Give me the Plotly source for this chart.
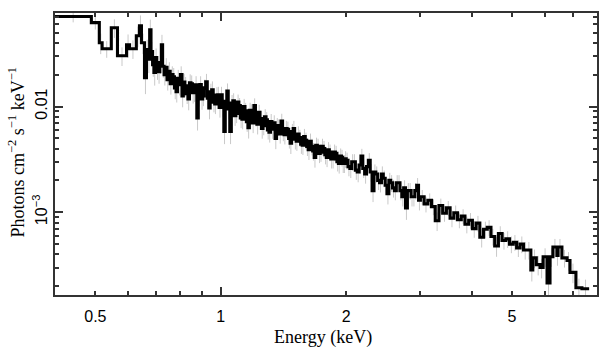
import numpy as np
import plotly.graph_objects as go

# ---- data: bin lower edges (keV), flux (photons/cm2/s/keV), relative errors ----
# segment 1: wide low-energy bins
edges_1 = [0.400, 0.489, 0.511, 0.519, 0.546, 0.565, 0.594, 0.604, 0.627, 0.638, 0.645, 0.656]
flux_1 = [0.0710, 0.0621, 0.0401, 0.0352, 0.0556, 0.0302, 0.0384, 0.0352, 0.0467, 0.0581, 0.0401, 0.0187]
err_1 = [0.12, 0.14, 0.22, 0.18, 0.20, 0.20, 0.25, 0.20, 0.22, 0.25, 0.22, 0.30]

# segment 2: 0.663 - 1.0 keV
edges_2 = [0.663, 0.669, 0.675, 0.680, 0.686, 0.691, 0.697, 0.702, 0.708, 0.714,
           0.720, 0.725, 0.731, 0.737, 0.743, 0.749, 0.756, 0.762, 0.768, 0.774,
           0.781, 0.787, 0.794, 0.800, 0.807, 0.813, 0.820, 0.827, 0.834, 0.841,
           0.848, 0.855, 0.862, 0.869, 0.876, 0.883, 0.891, 0.898, 0.905, 0.912,
           0.920, 0.928, 0.936, 0.943, 0.951, 0.959, 0.967, 0.975, 0.983, 0.991]
flux_2 = [0.0345, 0.0280, 0.0530, 0.0330, 0.0248, 0.0210, 0.0290, 0.0235, 0.0213, 0.0260,
          0.0384, 0.0240, 0.0200, 0.0235, 0.0179, 0.0215, 0.0164, 0.0200, 0.0191, 0.0150,
          0.0138, 0.0185, 0.0161, 0.0200, 0.0126, 0.0170, 0.0157, 0.0132, 0.0118, 0.0168,
          0.0164, 0.0135, 0.0138, 0.0160, 0.0078, 0.0125, 0.0161, 0.0118, 0.0126, 0.0150,
          0.0171, 0.0120, 0.0097, 0.0138, 0.0144, 0.0110, 0.0106, 0.0128, 0.0129, 0.0098]
err_2 = [0.24, 0.26, 0.25, 0.24, 0.23, 0.25, 0.22, 0.24, 0.23, 0.22,
         0.24, 0.22, 0.21, 0.22, 0.21, 0.22, 0.21, 0.20, 0.21, 0.22,
         0.21, 0.20, 0.21, 0.20, 0.22, 0.20, 0.21, 0.20, 0.22, 0.20,
         0.20, 0.21, 0.20, 0.21, 0.24, 0.20, 0.20, 0.21, 0.20, 0.20,
         0.19, 0.20, 0.22, 0.19, 0.20, 0.20, 0.20, 0.19, 0.19, 0.20]

# segment 3: 1.0 - 2.0 keV
edges_3 = [1.000, 1.008, 1.017, 1.025, 1.034, 1.042, 1.051, 1.060, 1.069, 1.078,
           1.087, 1.096, 1.105, 1.114, 1.124, 1.133, 1.143, 1.152, 1.162, 1.171,
           1.181, 1.191, 1.201, 1.211, 1.221, 1.231, 1.242, 1.252, 1.263, 1.273,
           1.284, 1.294, 1.305, 1.316, 1.327, 1.338, 1.350, 1.361, 1.372, 1.383,
           1.395, 1.407, 1.419, 1.431, 1.443, 1.455, 1.467, 1.479, 1.492, 1.504,
           1.517, 1.529, 1.542, 1.555, 1.568, 1.581, 1.595, 1.608, 1.621, 1.635,
           1.649, 1.662, 1.676, 1.690, 1.705, 1.719, 1.733, 1.747, 1.762, 1.777,
           1.792, 1.807, 1.822, 1.837, 1.853, 1.868, 1.884, 1.900, 1.916, 1.932,
           1.948, 1.961, 1.974, 1.987]
flux_3 = [0.0129, 0.0100, 0.0058, 0.0112, 0.0140, 0.0095, 0.0058, 0.0108, 0.0113, 0.0082,
          0.0086, 0.0110, 0.0102, 0.0078, 0.0076, 0.0100, 0.0091, 0.0072, 0.0063, 0.0092,
          0.0089, 0.0070, 0.0102, 0.0080, 0.0068, 0.0088, 0.0077, 0.0062, 0.0066, 0.0080,
          0.0075, 0.0060, 0.0057, 0.0072, 0.0061, 0.0070, 0.0050, 0.0066, 0.0064, 0.0055,
          0.0073, 0.0058, 0.0054, 0.0062, 0.0061, 0.0050, 0.0045, 0.0058, 0.0062, 0.0049,
          0.0047, 0.0055, 0.0051, 0.0044, 0.0043, 0.0052, 0.0048, 0.0042, 0.0039, 0.0047,
          0.0042, 0.0038, 0.0033, 0.0043, 0.0042, 0.0036, 0.0037, 0.0042, 0.0040, 0.0035,
          0.0033, 0.0039, 0.0037, 0.0032, 0.0032, 0.0037, 0.0036, 0.0030, 0.0029, 0.0034,
          0.0033, 0.0029, 0.0029, 0.0032]
err_3 = [0.19, 0.20, 0.24, 0.19, 0.18, 0.20, 0.24, 0.19, 0.18, 0.20,
         0.19, 0.18, 0.18, 0.20, 0.20, 0.18, 0.19, 0.20, 0.21, 0.18,
         0.18, 0.20, 0.17, 0.19, 0.20, 0.18, 0.19, 0.20, 0.19, 0.18,
         0.18, 0.19, 0.20, 0.18, 0.19, 0.18, 0.21, 0.18, 0.18, 0.19,
         0.17, 0.19, 0.19, 0.18, 0.18, 0.20, 0.21, 0.18, 0.18, 0.20,
         0.19, 0.18, 0.18, 0.19, 0.19, 0.18, 0.18, 0.19, 0.20, 0.18,
         0.18, 0.19, 0.20, 0.18, 0.18, 0.19, 0.19, 0.18, 0.18, 0.19,
         0.19, 0.18, 0.18, 0.19, 0.19, 0.18, 0.18, 0.19, 0.20, 0.18,
         0.18, 0.19, 0.19, 0.18]

# segment 4: 2.0 - 3.0 keV
edges_4 = [2.000, 2.020, 2.041, 2.062, 2.083, 2.104, 2.126, 2.148, 2.170, 2.192,
           2.215, 2.238, 2.261, 2.284, 2.308, 2.332, 2.356, 2.380, 2.405, 2.430,
           2.455, 2.481, 2.506, 2.532, 2.558, 2.584, 2.611, 2.638, 2.665, 2.692,
           2.720, 2.748, 2.776, 2.805, 2.834, 2.863, 2.893, 2.923, 2.953, 2.983]
flux_4 = [0.0031, 0.0027, 0.0026, 0.0030, 0.0030, 0.0025, 0.0024, 0.0028, 0.0034, 0.0026,
          0.0023, 0.0027, 0.0031, 0.0024, 0.0016, 0.0024, 0.0023, 0.0020, 0.0019, 0.0023,
          0.0021, 0.0018, 0.0015, 0.0020, 0.0019, 0.0017, 0.0016, 0.0019, 0.0019, 0.0016,
          0.0014, 0.0017, 0.0011, 0.0016, 0.0016, 0.0014, 0.0014, 0.0016, 0.0018, 0.0013]
err_4 = [0.18, 0.19, 0.19, 0.18, 0.18, 0.19, 0.20, 0.18, 0.17, 0.19,
         0.19, 0.18, 0.17, 0.19, 0.22, 0.18, 0.18, 0.19, 0.19, 0.18,
         0.18, 0.19, 0.21, 0.18, 0.18, 0.19, 0.19, 0.18, 0.18, 0.19,
         0.19, 0.18, 0.23, 0.18, 0.18, 0.19, 0.19, 0.18, 0.17, 0.20]

# segment 5: 3.0 - 5.0 keV
edges_5 = [3.014, 3.077, 3.141, 3.206, 3.272, 3.340, 3.409, 3.480, 3.552, 3.626,
           3.701, 3.778, 3.856, 3.936, 4.018, 4.101, 4.186, 4.273, 4.362, 4.452,
           4.545, 4.639, 4.735, 4.833, 4.933]
flux_5 = [0.0014, 0.0012, 0.0013, 0.00113, 0.00083, 0.00116, 0.00098, 0.00110, 0.00088, 0.00099,
          0.00085, 0.00092, 0.00077, 0.00084, 0.00070, 0.00079, 0.00058, 0.00069, 0.00072, 0.00059,
          0.00048, 0.00063, 0.00054, 0.00056, 0.00050]
err_5 = [0.16, 0.17, 0.16, 0.17, 0.20, 0.16, 0.17, 0.16, 0.18, 0.17,
         0.17, 0.16, 0.18, 0.17, 0.18, 0.17, 0.20, 0.18, 0.17, 0.18,
         0.21, 0.17, 0.18, 0.18, 0.18]

# segment 6: above 5 keV (last entry is the upper edge of the final bin)
edges_6 = [5.035, 5.13, 5.23, 5.33, 5.43, 5.55, 5.61, 5.72, 5.84, 5.94,
           6.07, 6.17, 6.27, 6.41, 6.45, 6.59, 6.78, 6.89, 7.12, 7.36, 7.66]
flux_6 = [0.00052, 0.00046, 0.00050, 0.00044, 0.00044, 0.000284, 0.00037, 0.00032, 0.00030, 0.00038,
          0.000214, 0.00038, 0.00047, 0.00039, 0.00047, 0.00037, 0.00035, 0.00027, 0.000193, 0.000189]
err_6 = [0.17, 0.18, 0.18, 0.19, 0.19, 0.22, 0.20, 0.21, 0.21, 0.20,
         0.24, 0.20, 0.19, 0.20, 0.19, 0.19, 0.20, 0.21, 0.22, 0.22]

x_tick_vals = [0.5, 1, 2, 5]
x_tick_text = ["0.5", "1", "2", "5"]
x_minor_vals = [0.4, 0.6, 0.7, 0.8, 0.9, 3, 4, 6, 7, 8]
x_decade_vals = [1]

y_tick_vals = [0.01, 0.001]
y_tick_text = ["0.01", "10<sup>\u22123</sup>"]
y_minor_vals = [2e-4, 3e-4, 4e-4, 5e-4, 6e-4, 7e-4, 8e-4, 9e-4,
                2e-3, 3e-3, 4e-3, 5e-3, 6e-3, 7e-3, 8e-3, 9e-3,
                0.02, 0.03, 0.04, 0.05, 0.06, 0.07]
y_decade_vals = [0.01, 0.001]

x_range = [0.4, 8.0]
y_range = [1.65e-4, 0.0766]

# ---- derived arrays ----
edges = np.array(edges_1 + edges_2 + edges_3 + edges_4 + edges_5 + edges_6)
f = np.array(flux_1 + flux_2 + flux_3 + flux_4 + flux_5 + flux_6)
rel = np.array(err_1 + err_2 + err_3 + err_4 + err_5 + err_6)
assert len(edges) == len(f) + 1 and len(rel) == len(f)
lo, hi = edges[:-1], edges[1:]
centers = np.sqrt(lo * hi)
err = f * rel
step_x = edges
step_y = np.append(f, f[-1])

AX = "#333333"

fig = go.Figure()
fig.add_trace(go.Scatter(
    x=centers, y=f, mode="markers",
    marker=dict(size=1, opacity=0),
    error_y=dict(type="data", array=err, color="#c9c9c9", thickness=1, width=0),
    showlegend=False, hoverinfo="skip",
))
fig.add_trace(go.Scatter(
    x=step_x, y=step_y, mode="lines", line=dict(shape="hv", color="black", width=3.1),
    showlegend=False,
))
# empty trace so the overlay axes (long decade ticks) exist
fig.add_trace(go.Scatter(x=[None], y=[None], xaxis="x2", yaxis="y2",
                         showlegend=False, hoverinfo="skip"))

tick_font = dict(family="Liberation Sans, Arial, sans-serif", size=16, color="black")
title_font = dict(family="Liberation Serif, Times New Roman, serif", size=18, color="black")

common = dict(type="log", showgrid=False, zeroline=False, automargin=False)
xr = [np.log10(x_range[0]), np.log10(x_range[1])]
yr = [np.log10(y_range[0]), np.log10(y_range[1])]

fig.update_layout(
    width=608, height=357,
    margin=dict(l=55, r=11, t=13, b=62, autoexpand=False),
    paper_bgcolor="white", plot_bgcolor="white",
    xaxis=dict(
        **common, range=xr,
        tickvals=x_tick_vals, ticktext=x_tick_text,
        ticks="inside", ticklen=4, tickwidth=1.5, tickcolor=AX,
        showline=True, linewidth=2, linecolor=AX, mirror="allticks",
        tickfont=tick_font, ticklabelstandoff=6,
        minor=dict(tickvals=x_minor_vals, ticks="inside", ticklen=4,
                   tickwidth=1.5, tickcolor=AX, showgrid=False),
    ),
    yaxis=dict(
        **common, range=yr,
        tickvals=y_tick_vals, ticktext=y_tick_text, tickangle=-90,
        ticks="inside", ticklen=8, tickwidth=1.5, tickcolor=AX,
        showline=True, linewidth=2, linecolor=AX, mirror="allticks",
        tickfont=tick_font, ticklabelstandoff=0,
        minor=dict(tickvals=y_minor_vals, ticks="inside", ticklen=4,
                   tickwidth=1.5, tickcolor=AX, showgrid=False),
    ),
    xaxis2=dict(
        **common, overlaying="x", anchor="y", side="bottom", range=xr,
        tickvals=x_decade_vals, ticks="inside", ticklen=8, tickwidth=1.5,
        tickcolor=AX, showticklabels=False, showline=False, mirror="ticks",
    ),
    yaxis2=dict(
        **common, overlaying="y", anchor="x", side="left", range=yr,
        tickvals=y_decade_vals, ticks="inside", ticklen=8, tickwidth=1.5,
        tickcolor=AX, showticklabels=False, showline=False, mirror="ticks",
    ),
    annotations=[
        dict(text="Energy (keV)", xref="paper", yref="paper", x=0.495, y=-0.149,
             showarrow=False, font=title_font, xanchor="center", yanchor="middle"),
        dict(text="Photons cm<sup>\u22122</sup> s<sup>\u22121</sup> keV<sup>\u22121</sup>",
             xref="paper", yref="paper", x=-0.0701, y=0.505, textangle=-90,
             showarrow=False, font=title_font, xanchor="center", yanchor="middle"),
    ],
)

fig.write_html("out.html", config={"displayModeBar": False})

# remove the browser's default 8px body margin so the figure sits at the page origin
with open("out.html", "r", encoding="utf-8") as fh:
    page = fh.read()
page = page.replace("<body>", '<body style="margin:0;padding:0;overflow:hidden">', 1)
with open("out.html", "w", encoding="utf-8") as fh:
    fh.write(page)
